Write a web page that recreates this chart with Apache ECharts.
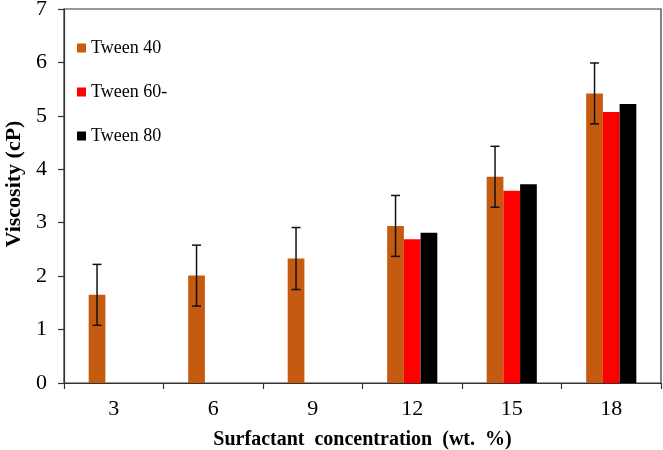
<!DOCTYPE html>
<html>
<head>
<meta charset="utf-8">
<script src="https://cdn.jsdelivr.net/npm/echarts@6/dist/echarts.min.js"></script>
<style>html,body{margin:0;padding:0;background:#fff}#c{width:663px;height:450px}</style>
</head>
<body>
<div id="c"></div>
<script>
const categories = ['3', '6', '9', '12', '15', '18'];
const tween40 = [1.65, 2.01, 2.33, 2.94, 3.86, 5.42];
const tween40Err = [0.57, 0.57, 0.58, 0.57, 0.57, 0.57];
const tween60 = [null, null, null, 2.69, 3.60, 5.07];
const tween80 = [null, null, null, 2.81, 3.72, 5.22];
const seriesNames = ['Tween 40', 'Tween 60-', 'Tween 80'];
const yTicks = [0, 1, 2, 3, 4, 5, 6, 7];

const BAR_FRAC = 0.168;
const font = '"Liberation Serif", "Times New Roman", serif';
const axisColor = '#333';

const chart = echarts.init(document.getElementById('c'), null, {renderer: 'canvas'});
chart.setOption({
  animation: false,
  backgroundColor: '#fff',
  textStyle: {fontFamily: font},
  grid: {left: 64, right: 2, top: 9, bottom: 67, containLabel: false, outerBoundsMode: 'none',
         show: true, borderColor: axisColor, borderWidth: 1.2},
  legend: {
    data: seriesNames,
    orient: 'vertical',
    left: 77, top: 39, padding: 0,
    icon: 'rect', itemWidth: 9, itemHeight: 9, itemGap: 26,
    textStyle: {fontFamily: font, fontSize: 18, color: '#000'}
  },
  xAxis: {
    type: 'category',
    data: categories,
    name: 'Surfactant  concentration  (wt.  %)',
    nameLocation: 'middle', nameGap: 47,
    nameTextStyle: {fontFamily: font, fontSize: 20, fontWeight: 'bold', color: '#000'},
    axisLine: {lineStyle: {color: axisColor, width: 1.2}},
    axisTick: {show: true, length: 6, lineStyle: {color: axisColor, width: 1.2}},
    axisLabel: {fontFamily: font, fontSize: 22, color: '#000', margin: 15},
    splitLine: {show: false}
  },
  yAxis: {
    type: 'value', min: 0, max: 7, interval: 1,
    name: 'Viscosity (cP)', nameLocation: 'middle', nameGap: 39,
    nameTextStyle: {fontFamily: font, fontSize: 22, fontWeight: 'bold', color: '#000', padding: [0, 0, 0, 24]},
    axisLine: {show: true, lineStyle: {color: axisColor, width: 1.2}},
    axisTick: {show: true, length: 6, lineStyle: {color: axisColor, width: 1.2}},
    axisLabel: {fontFamily: font, fontSize: 22, color: '#000', margin: 17,
      formatter: v => yTicks.indexOf(v) >= 0 ? String(v) : ''},
    splitLine: {show: false}
  },
  series: [
    {name: seriesNames[0], type: 'bar', data: tween40, barWidth: (BAR_FRAC * 100) + '%', barGap: '0%',
     itemStyle: {color: '#C55A11'}},
    {name: seriesNames[1], type: 'bar', data: tween60, barWidth: (BAR_FRAC * 100) + '%', barGap: '0%',
     itemStyle: {color: '#FF0000'}},
    {name: seriesNames[2], type: 'bar', data: tween80, barWidth: (BAR_FRAC * 100) + '%', barGap: '0%',
     itemStyle: {color: '#000000'}},
    {
      type: 'custom',
      data: tween40.map((v, i) => [i, v, tween40Err[i]]),
      z: 10,
      renderItem: function (params, api) {
        const idx = api.value(0), v = api.value(1), e = api.value(2);
        const band = api.size([1, 0])[0];
        const cx = api.coord([idx, v])[0] - BAR_FRAC * band;
        const yTop = api.coord([idx, v + e])[1];
        const yBot = api.coord([idx, v - e])[1];
        const hw = 4.5;
        const style = {stroke: '#111', lineWidth: 1.5};
        return {
          type: 'group',
          children: [
            {type: 'line', shape: {x1: cx, y1: yTop, x2: cx, y2: yBot}, style: style},
            {type: 'line', shape: {x1: cx - hw, y1: yTop, x2: cx + hw, y2: yTop}, style: style},
            {type: 'line', shape: {x1: cx - hw, y1: yBot, x2: cx + hw, y2: yBot}, style: style}
          ]
        };
      }
    }
  ]
});
</script>
</body>
</html>
